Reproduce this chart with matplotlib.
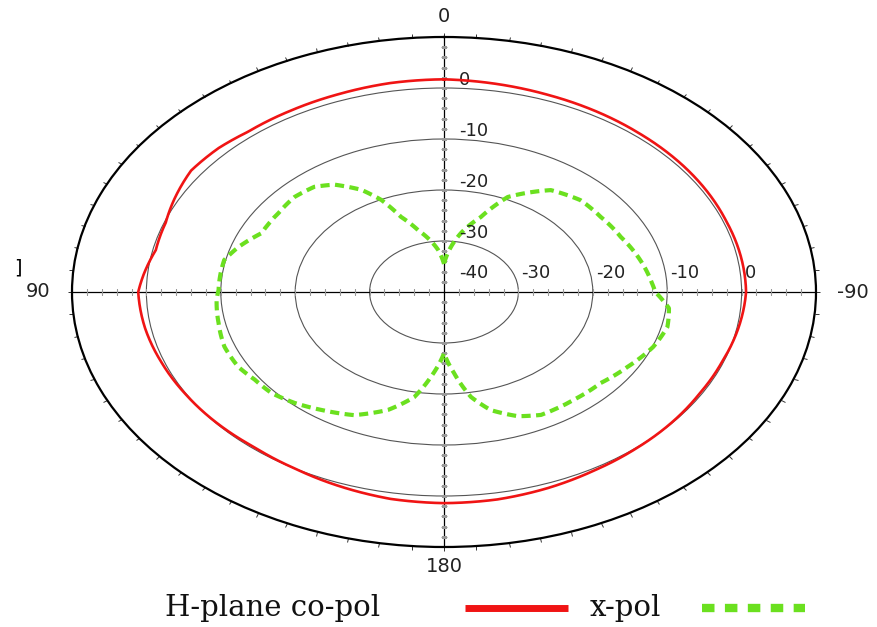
import numpy as np
import matplotlib.pyplot as plt
from matplotlib.lines import Line2D

# H-plane co-pol (dB), angle in degrees, 0 at top, 90 to the left
co_theta = [0, 10, 20, 30, 40, 47, 55, 63, 70, 78, 85, 90, 100, 110, 120, 130,
            140, 150, 160, 170, 180, 190, 200, 210, 220, 230, 240, 250, 260,
            270, 280, 290, 300, 310, 320, 330, 340, 350]
co_db = [1.7, 1.6, 1.3, 1.1, 1.0, 1.4, 1.5, 0.6, -0.2, -0.4, 0.5, 1.1, 0.8, 0.4,
         0.1, -0.1, -0.3, 0.0, 0.6, 1.2, 1.4, 1.3, 0.9, 0.4, 0.1, -0.1, -0.3,
         -0.2, 0.2, 0.6, 0.5, 0.4, 0.5, 0.6, 0.7, 0.9, 1.1, 1.4]

# x-pol (dB)
x_theta = [0, 5.5, 16, 21.4, 25, 29, 35, 40.2, 47.2, 55.1, 64.8, 72.3, 78, 89.2,
           92.9, 101.3, 110, 118, 124, 130.5, 137.3, 144.5, 153.4, 162, 169, 174,
           180, 184.8, 190, 195.2, 202.2, 208.4, 219.4, 229.7, 239.2, 249, 257.1,
           264, 270, 273.6, 283.4, 294.4, 304.9, 314.5, 324.3, 335.3, 341.4, 348.8]
x_db = [-34.5, -31.7, -27.4, -24.2, -20.1, -17.1, -14.3, -13.0, -12.6, -12.9,
        -12.9, -11.0, -9.8, -9.7, -9.4, -9.1, -8.6, -8.7, -9.3, -9.5, -10.4,
        -11.6, -13.0, -15.7, -19.0, -23.3, -28.0, -24.1, -19.1, -16.0, -13.7,
        -12.6, -12.6, -12.4, -11.3, -9.9, -9.2, -9.6, -11.6, -12.0, -12.9,
        -13.9, -14.3, -14.3, -15.4, -19.5, -24.5, -28.2]

ring_vals = [-30, -20, -10, 0]
angle_labels = {0: '0', 90: '90', 180: '180', 270: '-90'}

red = '#f01414'
green = '#6be01f'

fig = plt.figure(figsize=(8.77, 6.27), dpi=100)
ax = fig.add_axes([72/877, 80/627, 744/877, 510/627], projection='polar')
ax.set_aspect('auto')
ax.set_theta_zero_location('N')
ax.set_theta_direction(1)
ax.set_ylim(-40, 10)

ax.set_yticks(ring_vals)
ax.set_yticklabels([])
ax.yaxis.grid(True, color='#555555', lw=0.8)
ax.tick_params(axis='y', length=0)
ax.set_xticks(np.deg2rad(np.arange(0, 360, 5)))
ax.set_xticklabels([])
ax.xaxis.grid(False)
ax.tick_params(axis='x', direction='out', length=3, width=0.7, color='#333333',
               tick1On=False, tick2On=True)
ax.spines['polar'].set_linewidth(1.6)

# cross through the centre with small tick marks
for a in [0, 90, 180, 270]:
    ax.plot([np.deg2rad(a)] * 2, [-40, 10], color='black', lw=0.9, zorder=2)
rt = np.arange(-38, 10, 2)
for a in [0, 180]:
    ax.plot(np.full(len(rt), np.deg2rad(a)), rt, ls='none', marker='_', ms=4,
            mew=0.8, color='#999999', zorder=2)
for a in [90, 270]:
    ax.plot(np.full(len(rt), np.deg2rad(a)), rt, ls='none', marker='|', ms=4,
            mew=0.8, color='#999999', zorder=2)

co_line, = ax.plot(np.deg2rad(co_theta + [360]), co_db + [co_db[0]], color=red,
                   lw=1.9, zorder=4)
x_line, = ax.plot(np.deg2rad(x_theta + [360]), x_db + [x_db[0]], color=green, lw=3,
                  ls=(0, (2.2, 1.3)), dash_capstyle='butt', zorder=3)
# draw segments as curves in polar coordinates
for ln in (co_line, x_line):
    ln.get_path()._interpolation_steps = 24

# ring labels
for v in ring_vals:
    ax.annotate(str(v), xy=(0, v), xytext=(15, 3), textcoords='offset pixels',
                ha='left', va='baseline', fontsize=13, color='#222222')
    ax.annotate(str(v), xy=(np.deg2rad(270), v), xytext=(3, 14),
                textcoords='offset pixels', ha='left', va='baseline',
                fontsize=13, color='#222222')
ax.annotate('-40', xy=(0, -40), xytext=(15, 14), textcoords='offset pixels',
            ha='left', va='baseline', fontsize=13, color='#222222')

offs = {0: (0, 21), 90: (-34, 0), 180: (0, -20), 270: (37, 0)}
for a, lab in angle_labels.items():
    ax.annotate(lab, xy=(np.deg2rad(a), 10), xytext=offs[a], textcoords='offset pixels',
                ha='center', va='center', fontsize=14, color='#222222')

fig.text(18/877, 1 - 268/627, ']', fontsize=14, ha='center', va='center')

# legend drawn below the plot
ly = 1 - 608/627
fig.text(165/877, ly, 'H-plane co-pol', family='DejaVu Serif', fontsize=21,
         ha='left', va='center', color='#111111')
fig.add_artist(Line2D([465/877, 568/877], [ly, ly], color=red, lw=5,
                      solid_capstyle='butt'))
fig.text(590/877, ly, 'x-pol', family='DejaVu Serif', fontsize=21,
         ha='left', va='center', color='#111111')
fig.add_artist(Line2D([702/877, 805/877], [ly, ly], color=green, lw=6,
                      ls=(0, (1.5, 1.25)), dash_capstyle='butt'))

fig.savefig('out.png', dpi=100)
